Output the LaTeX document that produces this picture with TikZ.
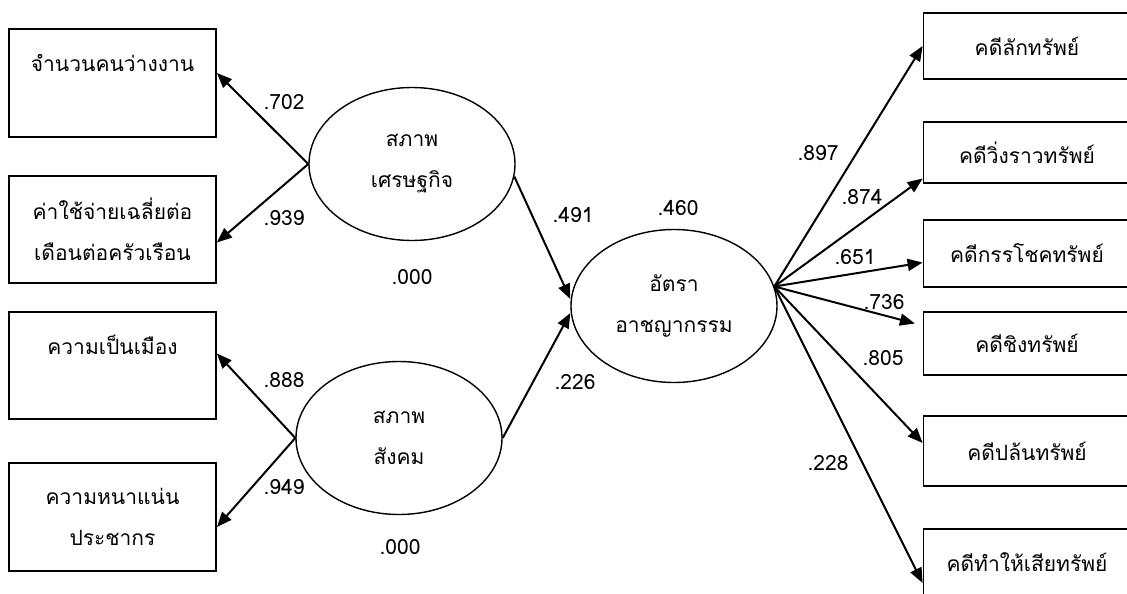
\documentclass[tikz,border=0pt]{standalone}
\usepackage{fontspec}
\setmainfont{Loma}[Script=Thai]
\usetikzlibrary{arrows.meta,shapes.geometric}

\begin{document}
\begin{tikzpicture}[x=1pt, y=-1pt, every node/.style={font=\fontsize{21}{41}\selectfont, align=center},
	>={Triangle[length=15pt, width=12pt]},
	obsbox/.style={draw, line width=1.8pt, minimum width=207pt, inner sep=0pt},
	latent/.style={ellipse, draw, line width=1.4pt, minimum width=206pt, minimum height=153pt, inner sep=0pt},
	link/.style={->, line width=2pt},
	coef/.style={inner sep=1pt}]
	\clip (0,0) rectangle (1127,594);
	\node[obsbox, minimum height=108pt] (job) at (112.5,83) {จำนวนคนว่างงาน\\~};
	\node[obsbox, minimum height=107pt] (exp) at (112.5,229.5) {ค่าใช้จ่ายเฉลี่ยต่อ\\เดือนต่อครัวเรือน};
	\node[obsbox, minimum height=107pt] (urb) at (112.5,365.5) {ความเป็นเมือง\\~};
	\node[obsbox, minimum height=108pt] (den) at (112.5,517) {ความหนาแน่น\\ประชากร};
	\node[latent] (eco) at (412,164) {สภาพ\\เศรษฐกิจ};
	\node[latent] (soc) at (399,438) {สภาพ\\สังคม};
	\node[latent] (crime) at (674,306) {อัตรา\\อาชญากรรม};
	\node[obsbox, minimum height=66pt] (lak) at (1027,46) {คดีลักทรัพย์};
	\node[obsbox, minimum height=61pt] (wing) at (1027,152.5) {คดีวิ่งราวทรัพย์};
	\node[obsbox, minimum height=67pt] (kan) at (1027,253.5) {คดีกรรโชคทรัพย์};
	\node[obsbox, minimum height=63pt] (ching) at (1027,343.5) {คดีชิงทรัพย์};
	\node[obsbox, minimum height=70pt] (plon) at (1027,451) {คดีปล้นทรัพย์};
	\node[obsbox, minimum height=66pt] (tam) at (1027,562) {คดีทำให้เสียทรัพย์};
	\draw[link] (eco.west) -- ([yshift=10pt]job.east);
	\draw[link] (eco.west) -- ([yshift=-13pt]exp.east);
	\draw[link] (soc.west) -- ([yshift=12pt]urb.east);
	\draw[link] (soc.west) -- ([yshift=-10pt]den.east);
	\draw[link] (eco.-7) -- ([yshift=7pt]crime.west);
	\draw[link] (soc.east) -- ([yshift=-7pt]crime.west);
	\draw[link] (crime.11) -- (lak.west);
	\draw[link] (crime.11) -- ([yshift=-26pt]wing.west);
	\draw[link] (crime.11) -- ([yshift=-9pt]kan.west);
	\draw[link, shorten >=8pt] (crime.11) -- ([yshift=18pt]ching.west);
	\draw[link] (crime.11) -- ([yshift=8pt]plon.west);
	\draw[link] (crime.11) -- ([yshift=-21pt]tam.west);
	\node[coef] (c702) at (284,102) {.702};
	\node[coef] (c939) at (284,218) {.939};
	\node[coef] (e000a) at (412,277) {.000};
	\node[coef] (c888) at (284,380) {.888};
	\node[coef] (c949) at (284,487) {.949};
	\node[coef] (e000b) at (400,547) {.000};
	\node[coef] (c491) at (573,215) {.491};
	\node[coef] (c226) at (575,382) {.226};
	\node[coef] (r460) at (678,208) {.460};
	\node[coef] (c897) at (818,153) {.897};
	\node[coef] (c874) at (862,197) {.874};
	\node[coef] (c651) at (855,257) {.651};
	\node[coef] (c736) at (884,302) {.736};
	\node[coef] (c805) at (883,358) {.805};
	\node[coef] (c228) at (828,463) {.228};
\end{tikzpicture}
\end{document}
